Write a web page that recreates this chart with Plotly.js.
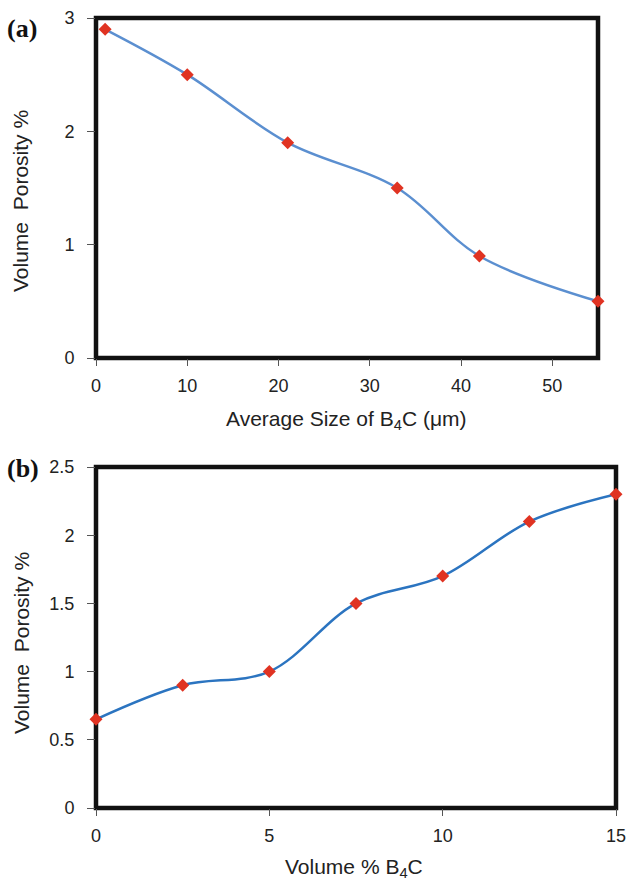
<!DOCTYPE html>
<html>
<head>
<meta charset="utf-8">
<script src="https://cdn.plot.ly/plotly-3.0.1.min.js"></script>
<style>
  html, body { margin: 0; padding: 0; background: #fff; }
  #chart { width: 628px; height: 883px; }
</style>
</head>
<body>
<div id="chart"></div>
<script>
// Panel (a): porosity against B4C particle size
const sizeUm = [1, 10, 21, 33, 42, 55];
const porositySize = [2.9, 2.5, 1.9, 1.5, 0.9, 0.5];

// Panel (b): porosity against B4C volume fraction
const volPct = [0, 2.5, 5, 7.5, 10, 12.5, 15];
const porosityVol = [0.65, 0.9, 1.0, 1.5, 1.7, 2.1, 2.3];

const xTicksA = [0, 10, 20, 30, 40, 50];
const yTicksA = [0, 1, 2, 3];
const xTicksB = [0, 5, 10, 15];
const yTicksB = [0, 0.5, 1, 1.5, 2, 2.5];
const yTickTextB = ['0', '0.5', '1', '1.5', '2', '2.5'];

const W = 628, H = 883;
const px = v => v / W;
const py = v => 1 - v / H;

const FONT = '"Liberation Sans", Arial, Helvetica, sans-serif';
const SERIF = '"Liberation Serif", "Times New Roman", serif';
const markerStyle = { symbol: 'diamond', size: 10, color: '#e03322' };

const traces = [
  {
    x: sizeUm, y: porositySize, xaxis: 'x', yaxis: 'y',
    mode: 'lines+markers', cliponaxis: false,
    line: { shape: 'spline', smoothing: 1, color: '#5b8fd0', width: 2.5 },
    marker: markerStyle
  },
  {
    x: volPct, y: porosityVol, xaxis: 'x2', yaxis: 'y2',
    mode: 'lines+markers', cliponaxis: false,
    line: { shape: 'spline', smoothing: 1, color: '#2b74c0', width: 2.5 },
    marker: markerStyle
  }
];

const tickFont = { family: FONT, size: 18, color: '#222' };
const titleFont = { family: FONT, size: 21, color: '#222' };

function xAxisCommon() {
  return {
    showgrid: false, zeroline: false, showline: false,
    ticks: 'outside', ticklen: 7, tickwidth: 1, tickcolor: '#555',
    tickfont: tickFont, ticklabelstandoff: 4, fixedrange: true
  };
}
function yAxisCommon() {
  return {
    showgrid: false, zeroline: false, showline: false,
    ticks: 'outside', ticklen: 8, tickwidth: 1, tickcolor: '#555',
    tickfont: tickFont, ticklabelstandoff: 9, fixedrange: true
  };
}

function title(text, x, y, angle) {
  return {
    text: text, xref: 'paper', yref: 'paper', x: px(x), y: py(y),
    xanchor: 'center', yanchor: 'middle', showarrow: false,
    textangle: angle || 0, font: titleFont
  };
}

const layout = {
  width: W, height: H,
  margin: { l: 0, r: 0, t: 0, b: 0 },
  paper_bgcolor: '#fff', plot_bgcolor: '#fff',
  showlegend: false,
  xaxis: Object.assign(xAxisCommon(), {
    domain: [px(96), px(598)], anchor: 'y',
    range: [0, 55], tickvals: xTicksA
  }),
  yaxis: Object.assign(yAxisCommon(), {
    domain: [py(358), py(18)], anchor: 'x',
    range: [0, 3], tickvals: yTicksA
  }),
  xaxis2: Object.assign(xAxisCommon(), {
    domain: [px(96), px(616)], anchor: 'y2',
    range: [0, 15], tickvals: xTicksB
  }),
  yaxis2: Object.assign(yAxisCommon(), {
    domain: [py(808), py(467)], anchor: 'x2',
    range: [0, 2.5], tickvals: yTicksB, ticktext: yTickTextB
  }),
  shapes: [
    { type: 'rect', xref: 'x domain', yref: 'y domain', x0: 0, x1: 1, y0: 0, y1: 1,
      line: { color: '#111', width: 4.5 }, layer: 'below' },
    { type: 'rect', xref: 'x2 domain', yref: 'y2 domain', x0: 0, x1: 1, y0: 0, y1: 1,
      line: { color: '#111', width: 4.5 }, layer: 'below' }
  ],
  annotations: [
    title('Average Size of B<sub>4</sub>C (\u03bcm)', 346, 420),
    title('Volume\u00a0 Porosity %', 21, 201, -90),
    title('Volume % B<sub>4</sub>C', 354, 868),
    title('Volume\u00a0 Porosity %', 21, 643, -90),
    { text: '<b>(a)</b>', xref: 'paper', yref: 'paper', x: px(5), y: py(28),
      xanchor: 'left', yanchor: 'middle', showarrow: false,
      font: { family: SERIF, size: 26, color: '#111' } },
    { text: '<b>(b)</b>', xref: 'paper', yref: 'paper', x: px(5), y: py(469),
      xanchor: 'left', yanchor: 'middle', showarrow: false,
      font: { family: SERIF, size: 26, color: '#111' } }
  ]
};

Plotly.newPlot('chart', traces, layout, { displayModeBar: false, staticPlot: true });
</script>
</body>
</html>
